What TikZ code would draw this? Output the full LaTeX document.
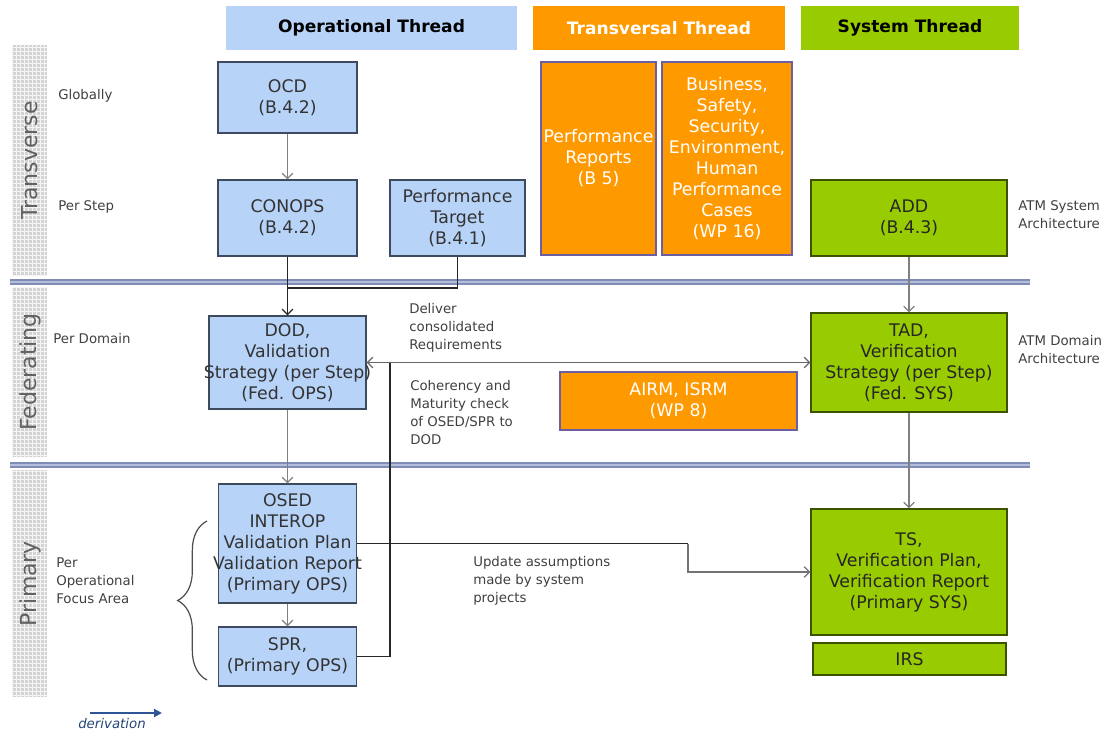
\documentclass[tikz,border=0pt]{standalone}
\usepackage{fontspec}
\setmainfont{DejaVu Sans}
\usetikzlibrary{arrows.meta, positioning, calc, decorations.pathreplacing, patterns}
\definecolor{OpBlue}{HTML}{B8D3F8}
\definecolor{TrOrange}{HTML}{FF9900}
\definecolor{SysGreen}{HTML}{99CC00}
\definecolor{OpEdge}{HTML}{3E4A5E}
\definecolor{TrEdge}{HTML}{6A5FA0}
\definecolor{SysEdge}{HTML}{3D5200}
\definecolor{SepBlue}{HTML}{7F8CB6}
\definecolor{SepLight}{HTML}{B4BDDB}
\definecolor{LaneGrey}{HTML}{D4D4D4}
\definecolor{DerivBlue}{HTML}{2F5597}

\begin{document}
\begin{tikzpicture}[x=0.75pt, y=-0.75pt, >={Straight Barb[length=4pt,width=8pt]},
  sz/.style 2 args={minimum width=#1*0.75pt, minimum height=#2*0.75pt},
  boxtext/.style={inner sep=0pt, align=center, font=\fontsize{13}{15.75}\selectfont},
  box/.style={draw, line width=0.9pt, boxtext},
  opbox/.style={box, fill=OpBlue, draw=OpEdge, text=black!80},
  trbox/.style={box, fill=TrOrange, draw=TrEdge, text=white},
  sysbox/.style={box, fill=SysGreen, draw=SysEdge, text=black!85},
  head/.style={inner sep=0pt, font=\fontsize{12.8}{15}\selectfont\bfseries},
  note/.style={align=left, anchor=west, inner sep=0pt, text=black!75,
               font=\fontsize{10}{13.5}\selectfont},
  lane/.style={rotate=90, text=black!62, font=\fontsize{16.5}{20}\selectfont},
  sep/.style={draw=SepBlue, double=SepLight, double distance=1.8pt, line width=1.3pt},
  flow/.style={->, draw=black!50, line width=0.9pt},
  link/.style={draw=black!85, line width=1pt}]
  \useasboundingbox (0,0) rectangle (1114,731);

  \node[head, fill=OpBlue, sz={291}{44}] (hop) at (371.5,28) {Operational Thread};
  \node[head, fill=TrOrange, text=white, sz={252}{44}] (htr) at (659,28) {Transversal Thread};
  \node[head, fill=SysGreen, sz={218}{44}] (hsy) at (910,28) {System Thread};

  \foreach \ya/\yb/\lbl in {45/276/Transverse, 287/457/Federating, 470/697/Primary} {
    \fill[LaneGrey] (12,\ya) rectangle (47,\yb);
    \fill[pattern=grid, pattern color=gray!8] (12,\ya) rectangle (47,\yb);
    \node[lane] at (30,{(\ya+\yb)/2}) {\lbl};
  }
  \draw[sep] (10,282) -- (1030,282);
  \draw[sep] (10,465) -- (1030,465);

  \node[note] (glob) at (58,96) {Globally};
  \node[note] (pstep) at (58,207) {Per Step};
  \node[note] (pdom) at (53,339) {Per Domain};
  \node[note] (pofa) at (56,581) {Per\\Operational\\Focus Area};
  \node[note] (atmsys) at (1018,215) {ATM System\\Architecture};
  \node[note] (atmdom) at (1018,349.5) {ATM Domain\\Architecture};
  \node[note] (deliver) at (409,328) {Deliver\\consolidated\\Requirements};
  \node[note] (coher) at (410,412.5) {Coherency and\\Maturity check\\of OSED/SPR to\\DOD};
  \node[note] (update) at (473,581) {Update assumptions\\made by system\\projects};

  \node[opbox, sz={139}{71}] (ocd) at (287.5,97.5) {OCD\\(B.4.2)};
  \node[opbox, sz={139}{76}] (conops) at (287.5,218) {CONOPS\\(B.4.2)};
  \node[opbox, sz={135}{76}] (ptarget) at (457.5,218) {Performance\\Target\\(B.4.1)};
  \node[trbox, sz={115}{193}] (preports) at (598.5,158.5) {Performance\\Reports\\(B 5)};
  \node[trbox, sz={130}{193}] (cases) at (727,158.5)
    {Business,\\Safety,\\Security,\\Environment,\\Human\\Performance\\Cases\\(WP 16)};
  \node[sysbox, sz={196}{76}] (add) at (909,218) {ADD\\(B.4.3)};
  \node[opbox, sz={157}{93}, label={[boxtext, text=black!80]center:{DOD,\\Validation\\Strategy (per Step)\\(Fed. OPS)}}]
    (dod) at (287.5,362.5) {};
  \node[sysbox, sz={196}{99}] (tad) at (909,362.5)
    {TAD,\\Verification\\Strategy (per Step)\\(Fed. SYS)};
  \node[trbox, sz={237}{58}] (airm) at (678.5,401) {AIRM, ISRM\\(WP 8)};
  \node[opbox, sz={138}{119}, label={[boxtext, text=black!80]center:{OSED\\INTEROP\\Validation Plan\\Validation Report\\(Primary OPS)}}]
    (osed) at (287.5,543.5) {};
  \node[opbox, sz={138}{59}] (spr) at (287.5,656.5) {SPR,\\(Primary OPS)};
  \node[sysbox, sz={196}{126}] (ts) at (909,572)
    {TS,\\Verification Plan,\\Verification Report\\(Primary SYS)};
  \node[sysbox, sz={193}{32}] (irs) at (909.5,659) {IRS};

  \coordinate (fedjoin) at (287.5,288);
  \coordinate (chk) at (390,362.5);
  \coordinate (bend) at (688,543.5);

  \draw[flow] (ocd) -- (conops);
  \draw[link, ->] (conops) -- (dod);
  \draw[link] (ptarget.south) |- (fedjoin);
  \draw[flow] (dod) -- (osed);
  \draw[flow] (osed) -- (spr);
  \draw[flow] (add) -- (tad);
  \draw[flow] (tad) -- (ts);
  \draw[<->, draw=black!60, line width=1pt] (dod) -- (tad);
  \draw[link] (spr.east) -| (chk);
  \draw[link] (osed.east) -- (bend);
  \draw[->, draw=black!55, line width=1pt] (bend) |- (ts.west);

  \draw[black!70, line width=0.9pt, decorate, decoration={brace, amplitude=22pt}]
    (207,680) -- (207,521);

  \node[font=\fontsize{10}{12}\selectfont\itshape, text=DerivBlue!80!black, inner sep=0pt]
    (deriv) at (112,724) {derivation};
  \coordinate (dstart) at (90,713);
  \coordinate (dend) at (162,713);
  \draw[-{Triangle[length=6pt,width=6pt]}, DerivBlue, line width=1.5pt] (dstart) -- (dend);
\end{tikzpicture}
\end{document}
